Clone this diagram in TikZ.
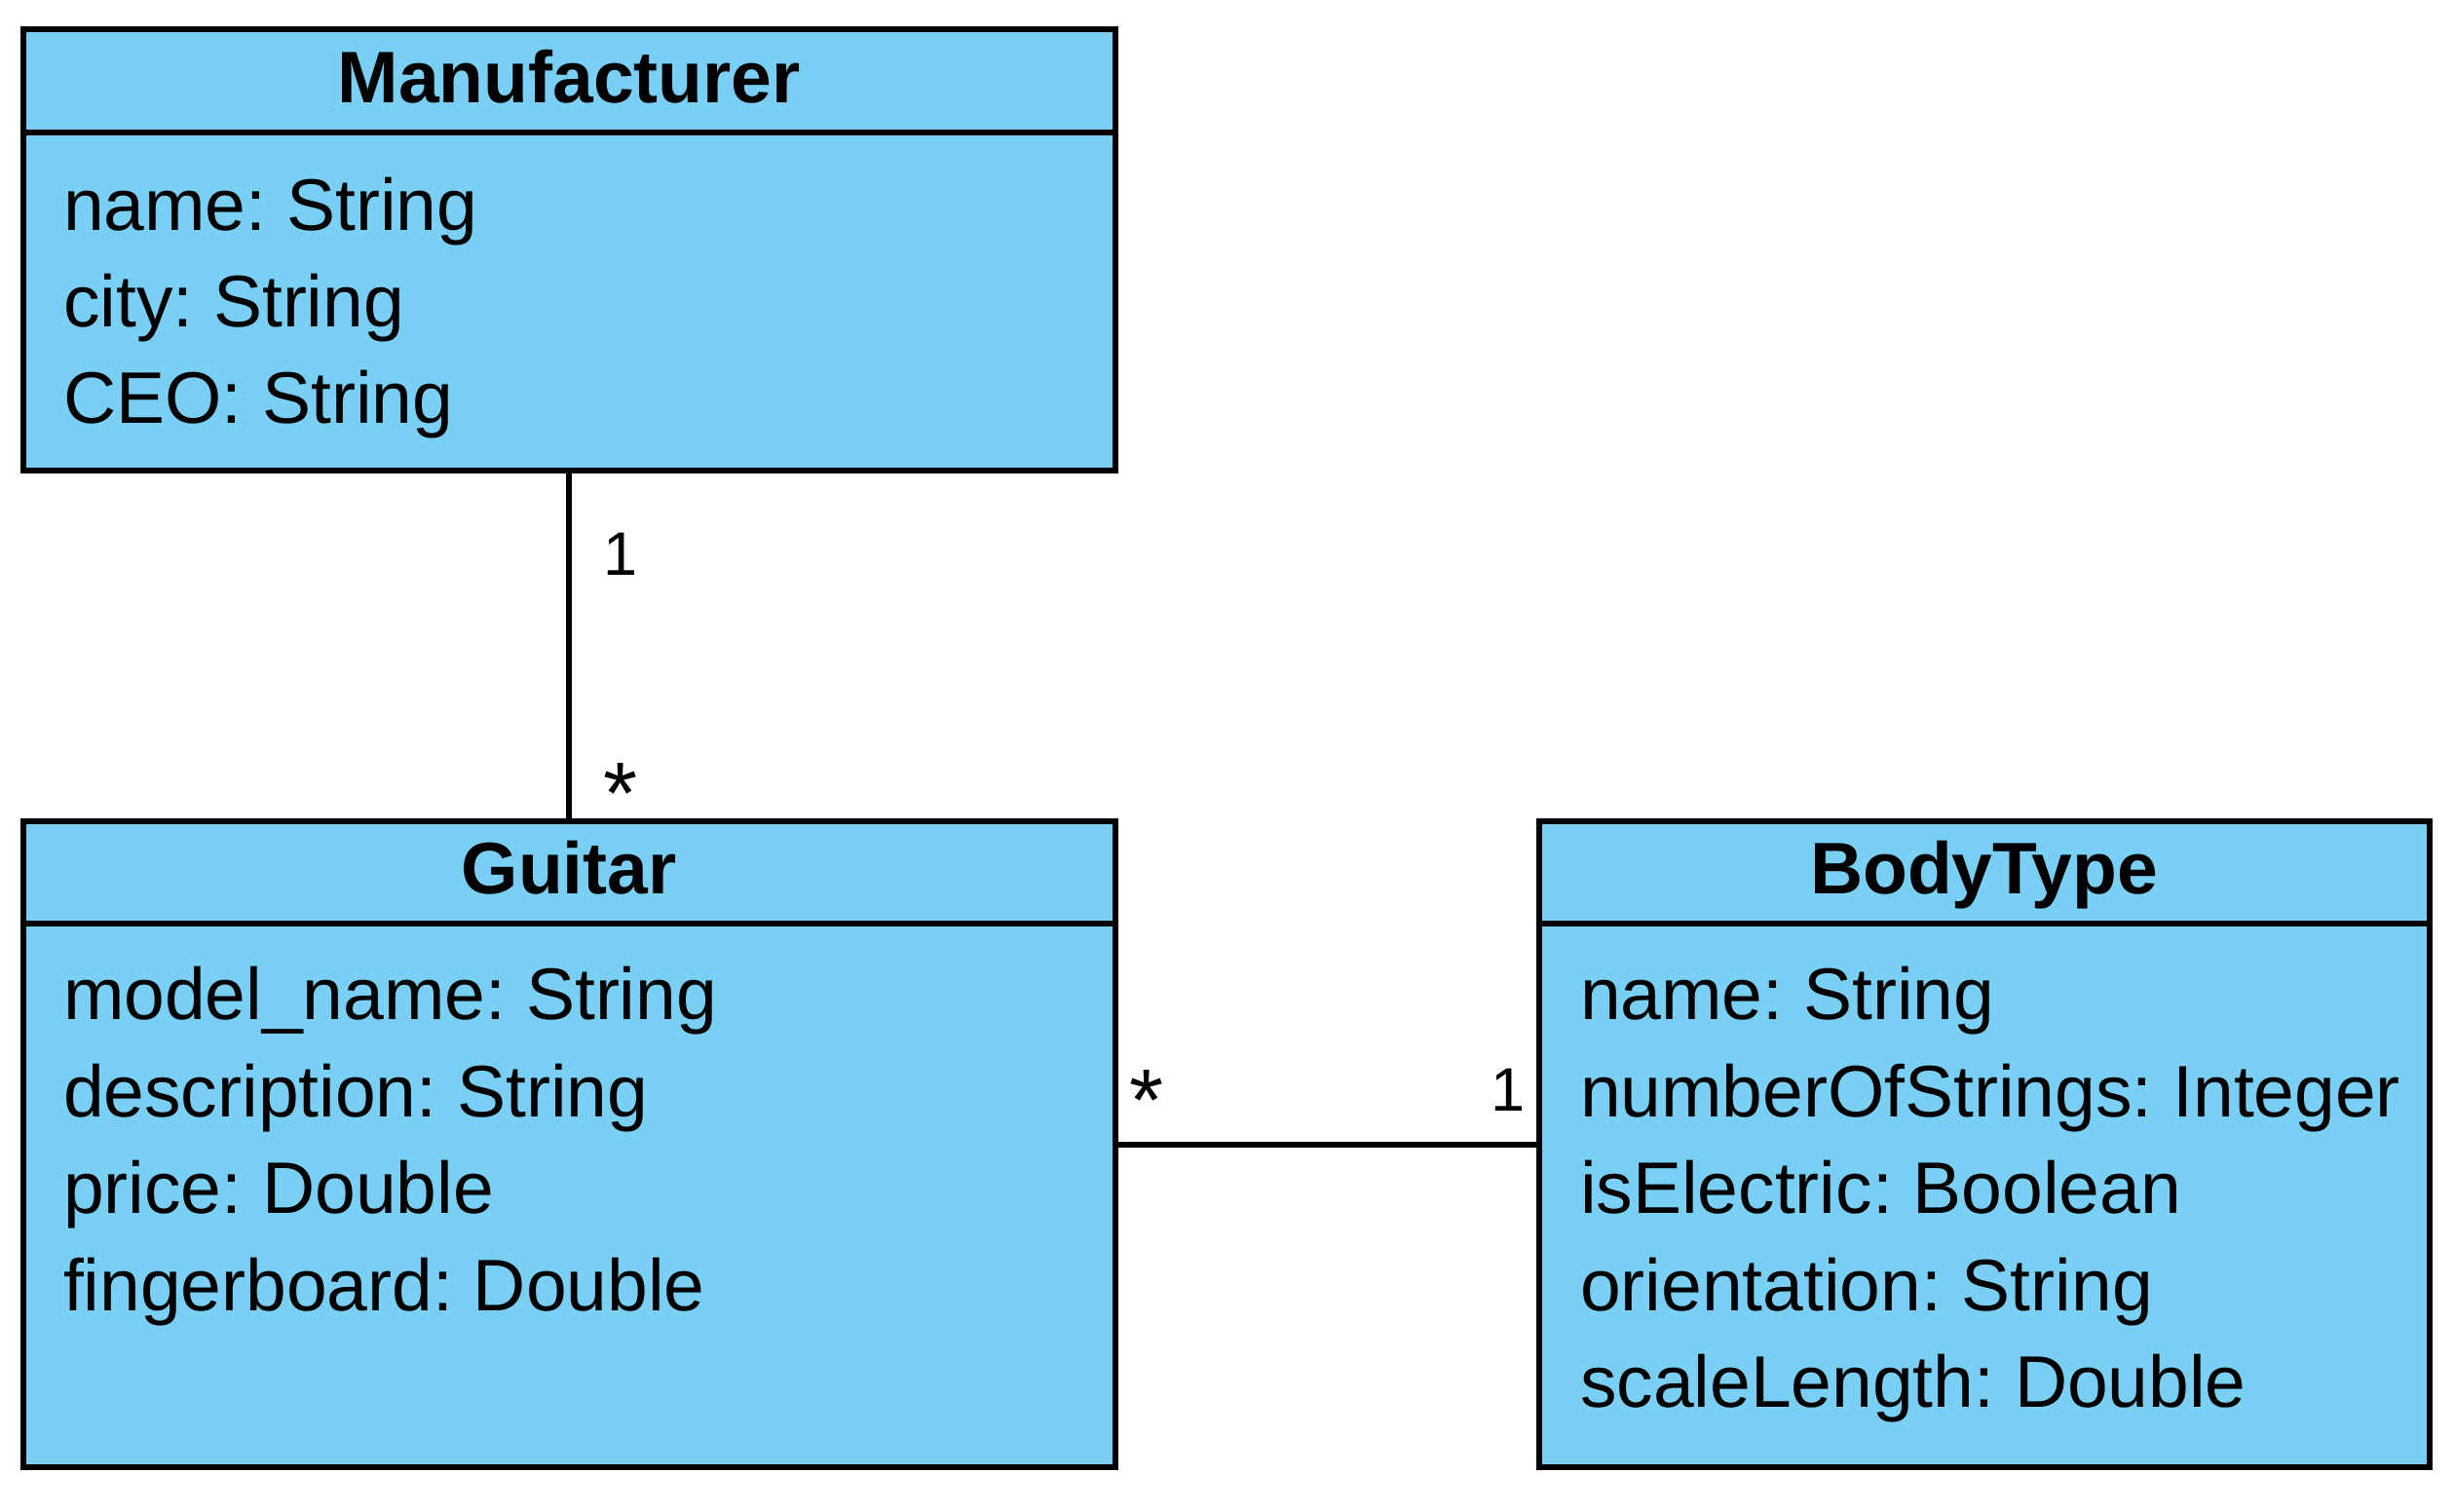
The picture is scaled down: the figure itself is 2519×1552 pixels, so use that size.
\documentclass[tikz,border=0pt]{standalone}
\usepackage{fontspec}
\setmainfont{Liberation Sans}
\frenchspacing
\definecolor{classblue}{RGB}{122,207,244}
\tikzset{
  classpart/.style={draw=black, fill=classblue, line width=6pt, outer sep=0pt, inner sep=0pt},
  hdr/.style={classpart, font=\fontsize{75}{90}\selectfont\bfseries, text height=64pt, text depth=20pt},
  attr/.style={anchor=base west, inner sep=0pt, outer sep=0pt, font=\fontsize{75}{90}\selectfont},
  multone/.style={anchor=base west, inner sep=0pt, outer sep=0pt, font=\fontsize{63}{70}\selectfont},
  multstar/.style={anchor=base, inner sep=0pt, outer sep=0pt, font=\fontsize{90}{100}\selectfont},
  assoc/.style={draw=black, line width=6pt}
}
\begin{document}
\begin{tikzpicture}[x=1pt, y=-1pt]
\useasboundingbox[fill=white] (0,0) rectangle (2519,1552);

% Manufacturer
\node[hdr, minimum width=1121.5pt, minimum height=105.2pt] (mh) at (584.25,83.1) {Manufacturer};
\node[classpart, minimum width=1121.5pt, minimum height=347.3pt, anchor=north] (mb) at (mh.south) {};
\node[attr] (m1) at (65,236) {name: String};
\node[attr] (m2) at (65,335) {city: String};
\node[attr] (m3) at (65,434) {CEO: String};

% Guitar
\node[hdr, minimum width=1121.5pt, minimum height=105.3pt] (gh) at (584.25,895.35) {Guitar};
\node[classpart, minimum width=1121.5pt, minimum height=558pt, anchor=north] (gb) at (gh.south) {};
\node[attr] (g1) at (65,1046.7) {model\_name: String};
\node[attr] (g2) at (65,1146) {description: String};
\node[attr] (g3) at (65,1245.5) {price: Double};
\node[attr] (g4) at (65,1345) {fingerboard: Double};

% BodyType
\node[hdr, minimum width=914pt, minimum height=105.3pt] (bh) at (2036.5,895.35) {BodyType};
\node[classpart, minimum width=914pt, minimum height=558pt, anchor=north] (bb) at (bh.south) {};
\node[attr] (b1) at (1622,1046.7) {name: String};
\node[attr] (b2) at (1622,1146) {numberOfStrings: Integer};
\node[attr] (b3) at (1622,1245.5) {isElectric: Boolean};
\node[attr] (b4) at (1622,1345) {orientation: String};
\node[attr] (b5) at (1622,1444.5) {scaleLength: Double};

% associations
\draw[assoc] (mb.south) -- (gh.north);
\draw[assoc] ([yshift=52pt]gb.east) -- ([yshift=52pt]bb.west);

% multiplicities
\node[multone] (l1) at (619,590) {1};
\node[multstar] (l2) at (637.5,845) {*};
\node[multstar] (l3) at (1176.5,1160) {*};
\node[multone] (l4) at (1530,1140) {1};
\end{tikzpicture}
\end{document}
